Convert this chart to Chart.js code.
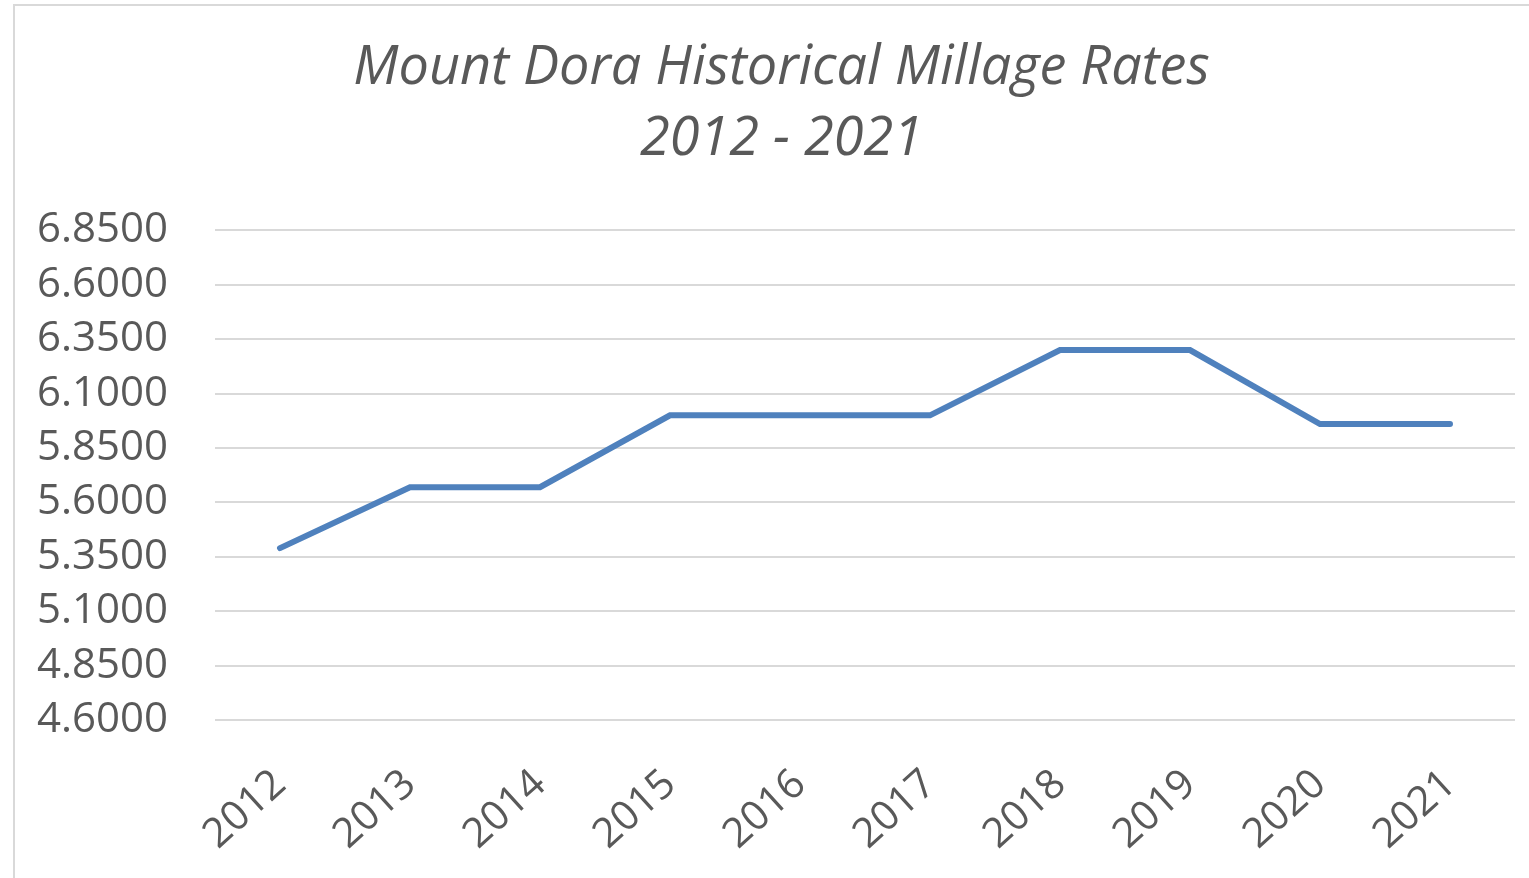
<!DOCTYPE html>
<html>
<head>
<meta charset="utf-8">
<script src="https://cdn.jsdelivr.net/npm/chart.js@4.4.1/dist/chart.umd.min.js"></script>
<style>
  html, body { margin: 0; padding: 0; background: #fff; overflow: hidden; }
  #wrap { position: relative; width: 1529px; height: 878px; overflow: hidden; }
  #frame { position: absolute; left: 13px; top: 4px; width: 1600px; height: 1000px; border: 2px solid #d9d9d9; box-sizing: border-box; }
  #chart { position: absolute; left: 0; top: 0; }
</style>
</head>
<body>
<div id="wrap">
  <div id="frame"></div>
  <canvas id="chart" width="1529" height="878"></canvas>
</div>
<script>
// values
const years = ['2012', '2013', '2014', '2015', '2016', '2017', '2018', '2019', '2020', '2021'];
const millage = [5.39, 5.67, 5.67, 6.00, 6.00, 6.00, 6.30, 6.30, 5.96, 5.96];
const titleLines = ['Mount Dora Historical Millage Rates', '2012 - 2021'];
const yMin = 4.6, yMax = 6.85, yStep = 0.25;

const gray = '#595959';
const gridGray = '#d9d9d9';

// the reference title sits a bit right of the canvas centre
const titleShift = {
  id: 'titleShift',
  afterLayout(chart) {
    if (chart.titleBlock) chart.titleBlock.left += 48;
  }
};

const ctx = document.getElementById('chart').getContext('2d');
new Chart(ctx, {
  type: 'line',
  data: {
    labels: years,
    datasets: [{
      data: millage,
      borderColor: '#4f81bd',
      borderWidth: 6,
      borderCapStyle: 'round',
      pointRadius: 0,
      tension: 0,
      fill: false
    }]
  },
  options: {
    responsive: false,
    animation: false,
    layout: { padding: { left: 0, right: 14, top: 0, bottom: 0 } },
    plugins: {
      legend: { display: false },
      tooltip: { enabled: false },
      title: {
        display: true,
        text: titleLines,
        color: gray,
        font: { family: 'Open Sans', size: 54, style: 'italic', weight: 'normal', lineHeight: 1.3 },
        padding: { top: 34, bottom: 56 }
      }
    },
    scales: {
      x: {
        offset: true,
        grid: { display: false, drawTicks: false },
        border: { display: false },
        ticks: {
          color: gray,
          font: { family: 'Open Sans', size: 41 },
          maxRotation: 42,
          minRotation: 42,
          padding: 40,
          autoSkip: false
        },
        afterFit: s => { s.height = 158; }
      },
      y: {
        min: yMin,
        max: yMax,
        grid: { color: gridGray, lineWidth: 2, drawTicks: false },
        border: { display: false },
        ticks: {
          stepSize: yStep,
          color: gray,
          font: { family: 'Open Sans', size: 42 },
          padding: 47,
          callback: v => Number(v).toFixed(4)
        },
        afterFit: s => { s.width = 215; }
      }
    }
  },
  plugins: [titleShift]
});
</script>
</body>
</html>
